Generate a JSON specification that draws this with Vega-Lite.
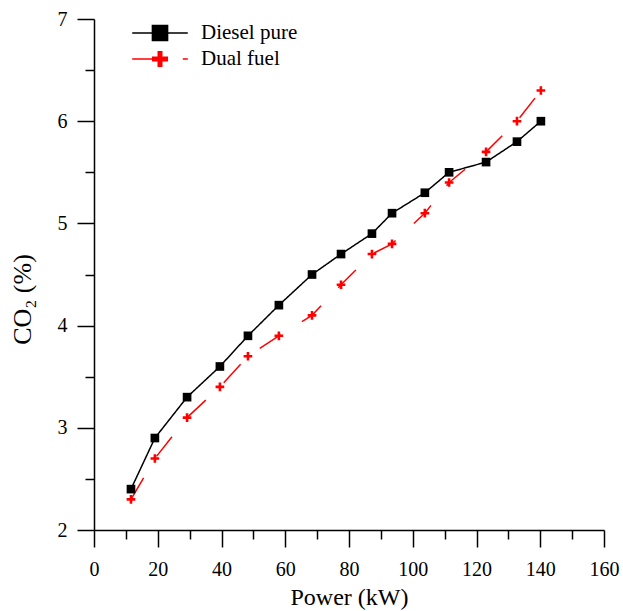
{
  "$schema": "https://vega.github.io/schema/vega-lite/v6.json",
  "width": 510,
  "height": 511,
  "autosize": {"type": "none"},
  "padding": {"left": 94, "top": 19, "right": 19, "bottom": 81},
  "background": "white",
  "config": {
    "view": {"stroke": null},
    "font": "Liberation Serif",
    "axis": {
      "grid": false,
      "domainColor": "black",
      "domainWidth": 1.5,
      "tickColor": "black",
      "tickWidth": 1.5,
      "labelColor": "black",
      "titleColor": "black",
      "labelFont": "Liberation Serif",
      "titleFont": "Liberation Serif",
      "labelFontSize": 20,
      "titleFontSize": 24,
      "titleFontWeight": "normal"
    }
  },
  "data": {
    "values": [
      {"series": "Diesel pure", "power": 11.6, "co2": 2.4},
      {"series": "Diesel pure", "power": 19.1, "co2": 2.9},
      {"series": "Diesel pure", "power": 29.2, "co2": 3.3},
      {"series": "Diesel pure", "power": 39.5, "co2": 3.6},
      {"series": "Diesel pure", "power": 48.3, "co2": 3.9},
      {"series": "Diesel pure", "power": 58.0, "co2": 4.2},
      {"series": "Diesel pure", "power": 68.4, "co2": 4.5},
      {"series": "Diesel pure", "power": 77.5, "co2": 4.7},
      {"series": "Diesel pure", "power": 87.2, "co2": 4.9},
      {"series": "Diesel pure", "power": 93.5, "co2": 5.1},
      {"series": "Diesel pure", "power": 103.8, "co2": 5.3},
      {"series": "Diesel pure", "power": 111.4, "co2": 5.5},
      {"series": "Diesel pure", "power": 123.0, "co2": 5.6},
      {"series": "Diesel pure", "power": 132.7, "co2": 5.8},
      {"series": "Diesel pure", "power": 140.2, "co2": 6.0},
      {"series": "Dual fuel", "power": 11.6, "co2": 2.3},
      {"series": "Dual fuel", "power": 19.1, "co2": 2.7},
      {"series": "Dual fuel", "power": 29.2, "co2": 3.1},
      {"series": "Dual fuel", "power": 39.5, "co2": 3.4},
      {"series": "Dual fuel", "power": 48.3, "co2": 3.7},
      {"series": "Dual fuel", "power": 58.0, "co2": 3.9},
      {"series": "Dual fuel", "power": 68.4, "co2": 4.1},
      {"series": "Dual fuel", "power": 77.5, "co2": 4.4},
      {"series": "Dual fuel", "power": 87.2, "co2": 4.7},
      {"series": "Dual fuel", "power": 93.5, "co2": 4.8},
      {"series": "Dual fuel", "power": 103.8, "co2": 5.1},
      {"series": "Dual fuel", "power": 111.4, "co2": 5.4},
      {"series": "Dual fuel", "power": 123.0, "co2": 5.7},
      {"series": "Dual fuel", "power": 132.7, "co2": 6.0},
      {"series": "Dual fuel", "power": 140.2, "co2": 6.3}
    ]
  },
  "resolve": {"axis": {"x": "independent", "y": "independent"}},
  "layer": [
    {
      "mark": {"type": "line", "strokeWidth": 1.5},
      "encoding": {
        "x": {
          "field": "power",
          "type": "quantitative",
          "scale": {"domain": [0, 160], "nice": false, "zero": false},
          "axis": {
            "orient": "bottom",
            "title": "Power (kW)",
            "values": [0, 20, 40, 60, 80, 100, 120, 140, 160],
            "format": "d",
            "labelFont": "Liberation Serif",
            "titleFont": "Liberation Serif",
            "labelFontSize": 20,
            "titleFontSize": 24,
            "tickSize": 17,
            "labelPadding": 12,
            "titlePadding": 6,
            "labelFlush": false,
            "labelOverlap": false
          }
        },
        "y": {
          "field": "co2",
          "type": "quantitative",
          "scale": {"domain": [2, 7], "nice": false, "zero": false},
          "axis": {
            "orient": "left",
            "title": "CO₂ (%)",
            "values": [2, 3, 4, 5, 6, 7],
            "format": "d",
            "labelFont": "Liberation Serif",
            "titleFont": "Liberation Serif",
            "labelFontSize": 20,
            "titleFontSize": 26,
            "tickSize": 17,
            "labelPadding": 10,
            "titlePadding": 22,
            "titleY": 280,
            "labelFlush": false,
            "labelOverlap": false
          }
        },
        "color": {
          "field": "series",
          "type": "nominal",
          "scale": {"domain": ["Diesel pure", "Dual fuel"], "range": ["black", "red"]},
          "legend": {
            "title": null,
            "orient": "none",
            "legendX": 38,
            "legendY": 1,
            "padding": 0,
            "symbolSize": 3090,
            "clipHeight": 26,
            "rowPadding": 0,
            "labelOffset": 13,
            "labelFont": "Liberation Serif",
            "labelFontSize": 21,
            "labelColor": "black",
            "symbolOpacity": 1,
            "symbolStrokeWidth": 0,
            "encode": {
              "symbols": {
                "update": {
                  "shape": {"signal": "datum.value === 'Diesel pure' ? 'M-1,-0.027L-0.3,-0.027L-0.3,-0.3L0.3,-0.3L0.3,-0.027L1,-0.027L1,0.027L0.3,0.027L0.3,0.3L-0.3,0.3L-0.3,0.027L-1,0.027Z' : 'M-1,-0.027L-0.29,-0.027L-0.29,-0.09L-0.09,-0.09L-0.09,-0.29L0.09,-0.29L0.09,-0.09L0.29,-0.09L0.29,0.09L0.09,0.09L0.09,0.29L-0.09,0.29L-0.09,0.09L-0.29,0.09L-0.29,0.027L-1,0.027Z M0.82,-0.027L1,-0.027L1,0.027L0.82,0.027Z'"},
                  "fill": {"signal": "datum.value === 'Diesel pure' ? 'black' : 'red'"},
                  "stroke": {"value": "transparent"},
                  "strokeWidth": {"value": 0},
                  "opacity": {"value": 1},
                  "fillOpacity": {"value": 1}
                }
              }
            }
          }
        },
        "strokeDash": {
          "field": "series",
          "type": "nominal",
          "scale": {"domain": ["Diesel pure", "Dual fuel"], "range": [[1, 0], [25, 25]]},
          "legend": null
        }
      }
    },
    {
      "transform": [{"filter": "datum.series === 'Diesel pure'"}],
      "mark": {"type": "point", "filled": true, "opacity": 1, "shape": "square", "color": "black", "size": 75},
      "encoding": {
        "x": {
          "field": "power",
          "type": "quantitative",
          "axis": {
            "orient": "bottom",
            "title": null,
            "values": [10, 30, 50, 70, 90, 110, 130, 150],
            "labels": false,
            "domain": false,
            "tickSize": 9
          }
        },
        "y": {
          "field": "co2",
          "type": "quantitative",
          "axis": {
            "orient": "left",
            "title": null,
            "values": [2.5, 3.5, 4.5, 5.5, 6.5],
            "labels": false,
            "domain": false,
            "tickSize": 9
          }
        }
      }
    },
    {
      "transform": [{"filter": "datum.series === 'Dual fuel'"}],
      "mark": {"type": "point", "filled": true, "opacity": 1, "shape": "M-1,-0.3L-0.3,-0.3L-0.3,-1L0.3,-1L0.3,-0.3L1,-0.3L1,0.3L0.3,0.3L0.3,1L-0.3,1L-0.3,0.3L-1,0.3Z", "color": "red", "size": 75},
      "encoding": {
        "x": {"field": "power", "type": "quantitative", "axis": null},
        "y": {"field": "co2", "type": "quantitative", "axis": null}
      }
    }
  ]
}
